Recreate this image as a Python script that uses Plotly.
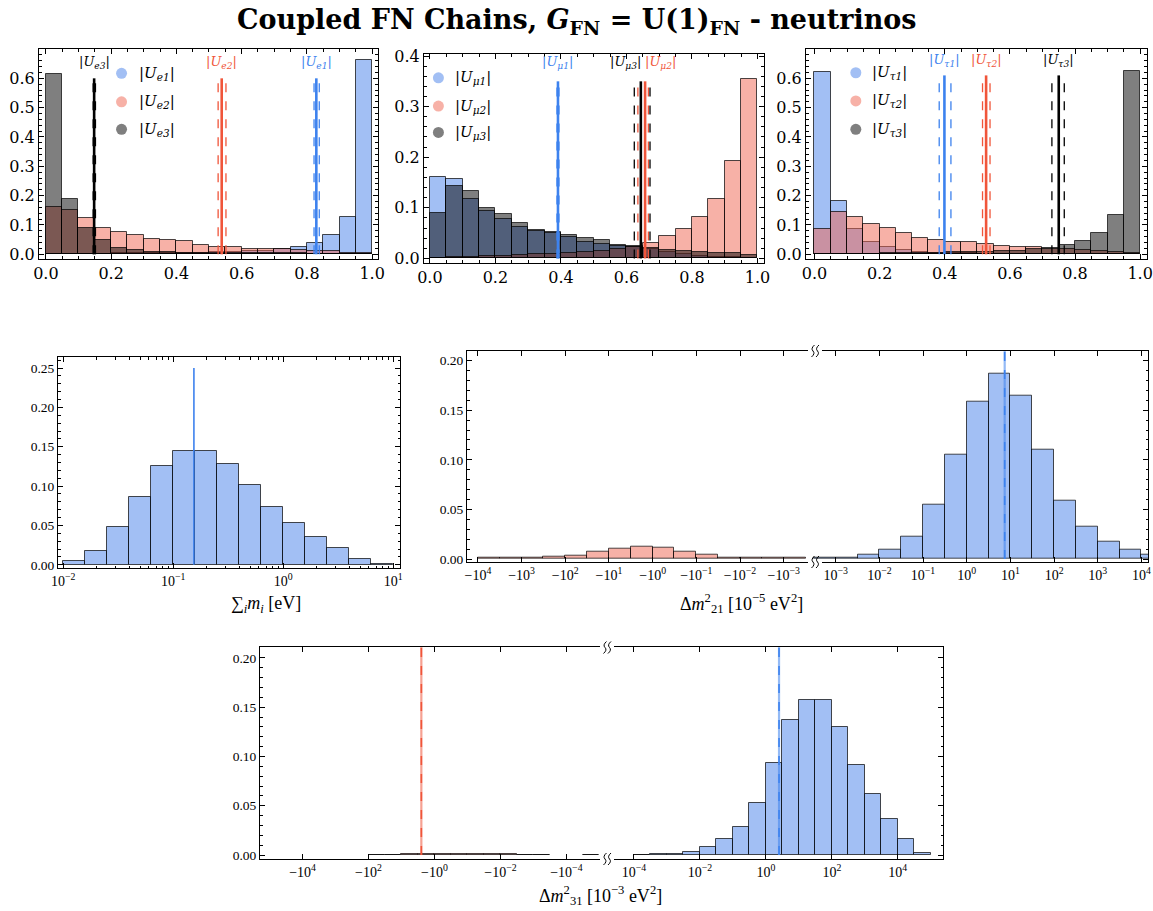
import math
import plotly.graph_objects as go

W, H = 1153, 911

# ---------------- data ----------------
u_edges = [0.00, 0.05, 0.10, 0.15, 0.20, 0.25, 0.30, 0.35, 0.40, 0.45, 0.50,
           0.55, 0.60, 0.65, 0.70, 0.75, 0.80, 0.85, 0.90, 0.95, 1.00]

Ue1 = [0.001, 0.001, 0.002, 0.002, 0.003, 0.003, 0.004, 0.004, 0.005, 0.006,
       0.007, 0.008, 0.010, 0.012, 0.017, 0.024, 0.039, 0.066, 0.127, 0.662]
Ue2 = [0.161, 0.151, 0.124, 0.091, 0.076, 0.065, 0.053, 0.049, 0.044, 0.031,
       0.026, 0.024, 0.017, 0.018, 0.017, 0.015, 0.011, 0.010, 0.006, 0.006]
Ue3 = [0.614, 0.187, 0.089, 0.049, 0.022, 0.013, 0.009, 0.007, 0.006, 0.005,
       0.004, 0.004, 0.003, 0.003, 0.003, 0.003, 0.002, 0.002, 0.002, 0.002]

Umu1 = [0.160, 0.157, 0.118, 0.093, 0.078, 0.063, 0.054, 0.051, 0.042, 0.033,
        0.029, 0.024, 0.022, 0.018, 0.012, 0.008, 0.005, 0.003, 0.002, 0.001]
Umu2 = [0.001, 0.002, 0.003, 0.004, 0.004, 0.007, 0.008, 0.009, 0.011, 0.013,
        0.015, 0.018, 0.022, 0.030, 0.045, 0.059, 0.081, 0.118, 0.193, 0.354]
Umu3 = [0.090, 0.144, 0.133, 0.099, 0.088, 0.070, 0.056, 0.053, 0.047, 0.040,
        0.036, 0.027, 0.024, 0.020, 0.016, 0.015, 0.013, 0.010, 0.010, 0.006]

Utau1 = [0.620, 0.183, 0.086, 0.043, 0.025, 0.015, 0.008, 0.005, 0.004, 0.003,
         0.002, 0.002, 0.001, 0.001, 0.001, 0.001, 0.001, 0.001, 0.001, 0.001]
Utau2 = [0.085, 0.145, 0.126, 0.102, 0.089, 0.072, 0.057, 0.050, 0.043, 0.041,
         0.034, 0.028, 0.026, 0.026, 0.018, 0.017, 0.014, 0.010, 0.007, 0.005]
Utau3 = [0.001, 0.001, 0.002, 0.002, 0.003, 0.004, 0.005, 0.006, 0.007, 0.008,
         0.009, 0.010, 0.012, 0.018, 0.022, 0.033, 0.045, 0.074, 0.135, 0.626]

# best-fit values and 1-sigma bands (|U1|, |U2|, |U3|)
Ue_best = [0.829, 0.539, 0.148]
Ue_lo = [0.822, 0.528, 0.145]
Ue_hi = [0.838, 0.552, 0.152]
Umu_best = [0.391, 0.657, 0.644]
Umu_lo = [0.388, 0.635, 0.624]
Umu_hi = [0.394, 0.667, 0.672]
Utau_best = [0.399, 0.527, 0.750]
Utau_lo = [0.383, 0.516, 0.729]
Utau_hi = [0.419, 0.539, 0.767]

# sum of masses: log10 bin edges and heights
summ_log_edges = [-2.0, -1.8, -1.6, -1.4, -1.2, -1.0, -0.8, -0.6, -0.4, -0.2,
                  0.0, 0.2, 0.4, 0.6, 0.8, 1.0]
summ_vals = [0.005, 0.018, 0.048, 0.086, 0.126, 0.144, 0.144, 0.128, 0.102,
             0.073, 0.053, 0.036, 0.021, 0.008, 0.001]
summ_best = 0.154

# Delta m^2_21 [1e-5 eV^2]; edges are log10|value|
dm21_neg_exp_edges = [4.0, 3.5, 3.0, 2.5, 2.0, 1.5, 1.0, 0.5, 0.0, -0.5, -1.0,
                      -1.5, -2.0, -2.5, -3.0, -3.5]
dm21_neg_vals = [0.001, 0.001, 0.001, 0.002, 0.0037, 0.0077, 0.0108, 0.0124,
                 0.0114, 0.0077, 0.004, 0.0017, 0.0017, 0.0013, 0.001]
dm21_pos_exp_edges = [-3.5, -3.0, -2.5, -2.0, -1.5, -1.0, -0.5, 0.0, 0.5, 1.0,
                      1.5, 2.0, 2.5, 3.0, 3.5, 4.0, 4.5]
dm21_pos_vals = [0.001, 0.0013, 0.004, 0.0097, 0.023, 0.055, 0.105, 0.159,
                 0.187, 0.165, 0.110, 0.059, 0.033, 0.0175, 0.009, 0.0047]
dm21_best = 7.4
dm21_neg_ticks = [4, 3, 2, 1, 0, -1, -2, -3]
dm21_pos_ticks = [-3, -2, -1, 0, 1, 2, 3, 4]

# Delta m^2_31 [1e-3 eV^2]
dm31_neg_exp_edges = [2.0, 1.5, 1.0, 0.5, 0.0, -0.5, -1.0, -1.5, -2.0, -2.5,
                      -3.0, -3.5, -4.0, -4.5, -5.0]
dm31_neg_vals = [0.0003, 0.0005, 0.0008, 0.001, 0.0012, 0.0015, 0.0013, 0.0011,
                 0.0008, 0.0005, 0.0003, None, None, 0.0003]
dm31_pos_exp_edges = [-4.0, -3.5, -3.0, -2.5, -2.0, -1.5, -1.0, -0.5, 0.0, 0.5,
                      1.0, 1.5, 2.0, 2.5, 3.0, 3.5, 4.0, 4.5, 5.0]
dm31_pos_vals = [0.0003, 0.0007, 0.001, 0.003, 0.0078, 0.016, 0.028, 0.053,
                 0.093, 0.137, 0.157, 0.157, 0.130, 0.091, 0.062, 0.037,
                 0.016, 0.002]
dm31_best_no = 2.5
dm31_best_io = -2.5
dm31_neg_ticks = [4, 2, 0, -2, -4]
dm31_pos_ticks = [-4, -2, 0, 2, 4]

# ---------------- style ----------------
BLUE_F = 'rgba(100,149,237,0.6)'
RED_F = 'rgba(240,100,80,0.5)'
GRAY_F = 'rgba(0,0,0,0.5)'
BLUE_L = '#3d82ee'
RED_L = '#f0553a'
EDGE = 'rgba(0,0,0,0.7)'
SERIF = 'DejaVu Serif'
SERIF2 = 'Liberation Serif'

# broken symmetric-log axis mapping (units of decades, break at 0)
C21_NEG, C21_POS = 3.73, 3.46
C31_NEG, C31_POS = 5.25, 4.80


def p_neg(e, c):
    return -(e + c)


def p_pos(e, c):
    return e + c


def p_val(v, cn, cp):
    if v < 0:
        return p_neg(math.log10(-v), cn)
    return p_pos(math.log10(v), cp)


fig = go.Figure()


def dom_x(a, b):
    return [a / W, b / W]


def dom_y(bottom, top):
    return [1 - bottom / H, 1 - top / H]


def add_bars(edges, vals, color, ax):
    xs, ws, ys = [], [], []
    for i, v in enumerate(vals):
        a, b = edges[i], edges[i + 1]
        xs.append((a + b) / 2)
        ws.append(abs(b - a))
        ys.append(v)
    fig.add_trace(go.Bar(x=xs, y=ys, width=ws, marker=dict(color=color, line=dict(color=EDGE, width=1)),
                         xaxis='x' + ax, yaxis='y' + ax, showlegend=False, hoverinfo='skip'))


def vline(x, y0, y1, color, ax, width=2.5, dash='solid', opacity=1.0):
    fig.add_trace(go.Scatter(x=[x, x], y=[y0, y1], mode='lines',
                             line=dict(color=color, width=width, dash=dash), opacity=opacity,
                             xaxis='x' + ax, yaxis='y' + ax, showlegend=False, hoverinfo='skip'))


annotations = []
shapes = []

# ---------------- top row ----------------
top_panels = [
    dict(ax='1', dx=(39, 378), dy=(259, 49), xr=[-0.021, 1.018], yr=[-0.016, 0.70],
         data=[Ue1, Ue2, Ue3], best=Ue_best, lo=Ue_lo, hi=Ue_hi, flav='e', lh=0.60, lt=0.655,
         leg=(0.232, 0.278, [0.617, 0.520, 0.426]), ytv=[0, 0.1, 0.2, 0.3, 0.4, 0.5, 0.6]),
    dict(ax='2', dx=(424, 764), dy=(263, 54), xr=[-0.018, 1.020], yr=[-0.009, 0.404],
         data=[Umu1, Umu2, Umu3], best=Umu_best, lo=Umu_lo, hi=Umu_hi, flav='μ', lh=0.35, lt=0.387,
         leg=(0.026, 0.071, [0.357, 0.301, 0.249]), ytv=[0, 0.1, 0.2, 0.3, 0.4]),
    dict(ax='3', dx=(806, 1147), dy=(259, 49), xr=[-0.026, 1.021], yr=[-0.016, 0.70],
         data=[Utau1, Utau2, Utau3], best=Utau_best, lo=Utau_lo, hi=Utau_hi, flav='τ', lh=0.61, lt=0.662,
         leg=(0.127, 0.171, [0.619, 0.523, 0.426]), ytv=[0, 0.1, 0.2, 0.3, 0.4, 0.5, 0.6]),
]

fills = [BLUE_F, RED_F, GRAY_F]
lcols = [BLUE_L, RED_L, 'black']
axis_common = dict(showgrid=False, zeroline=False, showline=True, linecolor='black', linewidth=1,
                   mirror='ticks', ticks='inside', tickcolor='black', automargin=False)

layout = {}
for P in top_panels:
    ax = P['ax']
    for k in range(3):
        add_bars(u_edges, P['data'][k], fills[k], ax)
    # best-fit lines
    for k in range(3):
        vline(P['lo'][k], 0, P['lh'], lcols[k], ax, width=1.3, dash='dash')
        vline(P['hi'][k], 0, P['lh'], lcols[k], ax, width=1.3, dash='dash')
        vline(P['best'][k], 0, P['lh'], lcols[k], ax, width=2.6)
    # labels above lines
    for k in range(3):
        txt = '|<i>U</i><sub><i>%s%d</i></sub>|' % (P['flav'], k + 1)
        xa = 'center'
        xpos = P['best'][k]
        if P['flav'] == 'μ' and k == 2:
            xa, xpos = 'right', 0.652
        if P['flav'] == 'μ' and k == 1:
            xa, xpos = 'left', 0.652
        annotations.append(dict(x=xpos, y=P['lt'], xref='x' + ax, yref='y' + ax, text=txt,
                                showarrow=False, xanchor=xa, yanchor='middle',
                                font=dict(family=SERIF, size=13, color=lcols[k])))
    # legend
    mx, tx, ys = P['leg']
    fig.add_trace(go.Scatter(x=[mx] * 3, y=ys, mode='markers',
                             marker=dict(size=11, color=fills, line=dict(width=0)),
                             xaxis='x' + ax, yaxis='y' + ax, showlegend=False, hoverinfo='skip'))
    for k in range(3):
        annotations.append(dict(x=tx, y=ys[k], xref='x' + ax, yref='y' + ax,
                                text='|<i>U</i><sub><i>%s%d</i></sub>|' % (P['flav'], k + 1),
                                showarrow=False, xanchor='left', yanchor='middle',
                                font=dict(family=SERIF, size=15, color='black')))
    xk = 'xaxis' if ax == '1' else 'xaxis' + ax
    yk = 'yaxis' if ax == '1' else 'yaxis' + ax
    layout[xk] = dict(axis_common, domain=dom_x(*P['dx']), range=P['xr'], anchor='y' + ax,
                      tickvals=[0, 0.2, 0.4, 0.6, 0.8, 1.0],
                      ticktext=['0.0', '0.2', '0.4', '0.6', '0.8', '1.0'], ticklen=5,
                      tickfont=dict(family=SERIF, size=16, color='black'),
                      minor=dict(ticks='inside', ticklen=3, dtick=0.05, tick0=0, tickcolor='black'))
    layout[yk] = dict(axis_common, domain=dom_y(*P['dy']), range=P['yr'], anchor='x' + ax,
                      tickvals=P['ytv'], ticktext=['%.1f' % v for v in P['ytv']], ticklen=5,
                      tickfont=dict(family=SERIF, size=16, color='black'),
                      minor=dict(ticks='inside', ticklen=3, dtick=0.02, tick0=0, tickcolor='black'))

# ---------------- middle left: sum of masses ----------------
add_bars(summ_log_edges, summ_vals, BLUE_F, '4')
vline(math.log10(summ_best), 0, 0.25, BLUE_L, '4', width=1.6)
minor_log = []
for n in [-3, -2, -1, 0, 1]:
    for m in range(2, 10):
        v = math.log10(m * 10 ** n)
        if -2.05 < v < 1.06:
            minor_log.append(v)
layout['xaxis4'] = dict(axis_common, domain=dom_x(58, 400), range=[-2.048, 1.061], anchor='y4',
                        tickvals=[-2, -1, 0, 1],
                        ticktext=['10<sup>−2</sup>', '10<sup>−1</sup>', '10<sup>0</sup>', '10<sup>1</sup>'],
                        ticklen=5, tickfont=dict(family=SERIF2, size=14, color='black'),
                        minor=dict(ticks='inside', ticklen=2.5, tickvals=minor_log, tickcolor='black'))
layout['yaxis4'] = dict(axis_common, domain=dom_y(568, 357), range=[-0.004, 0.264], anchor='x4',
                        tickvals=[0, 0.05, 0.10, 0.15, 0.20, 0.25],
                        ticktext=['0.00', '0.05', '0.10', '0.15', '0.20', '0.25'],
                        ticklen=5, tickfont=dict(family=SERIF2, size=13.5, color='black'),
                        minor=dict(ticks='inside', ticklen=2.5, dtick=0.01, tick0=0, tickcolor='black'))
annotations.append(dict(x=229 / W, y=1 - 604 / H, xref='paper', yref='paper', yanchor='middle',
                        text='∑<sub><i>i</i></sub><i>m<sub>i</sub></i> [eV]', showarrow=False,
                        font=dict(family=SERIF2, size=18, color='black')))

# ---------------- middle right: Delta m^2_21 ----------------
add_bars([p_neg(e, C21_NEG) for e in dm21_neg_exp_edges], dm21_neg_vals, RED_F, '5')
add_bars([p_pos(e, C21_POS) for e in dm21_pos_exp_edges], dm21_pos_vals, BLUE_F, '5')
pb = p_val(dm21_best, C21_NEG, C21_POS)
vline(pb, 0, 0.21, BLUE_L, '5', width=2.2, opacity=0.55)
vline(pb, 0, 0.21, BLUE_L, '5', width=1.6, dash='dash')


def logtick(e, neg):
    s = '%d' % e
    s = s.replace('-', '−')
    return ('−' if neg else '') + '10<sup>' + s + '</sup>'


tv21 = [p_neg(e, C21_NEG) for e in dm21_neg_ticks] + [p_pos(e, C21_POS) for e in dm21_pos_ticks]
tt21 = [logtick(e, True) for e in dm21_neg_ticks] + [logtick(e, False) for e in dm21_pos_ticks]
layout['xaxis5'] = dict(axis_common, domain=dom_x(467, 1148), range=[-7.98, 7.61], anchor='y5',
                        tickvals=tv21, ticktext=tt21, ticklen=5,
                        tickfont=dict(family=SERIF2, size=14, color='black'))
layout['yaxis5'] = dict(axis_common, domain=dom_y(561.7, 350.7), range=[-0.0027, 0.21], anchor='x5',
                        tickvals=[0, 0.05, 0.10, 0.15, 0.20],
                        ticktext=['0.00', '0.05', '0.10', '0.15', '0.20'],
                        ticklen=5, tickfont=dict(family=SERIF2, size=13.5, color='black'),
                        minor=dict(ticks='inside', ticklen=2.5, dtick=0.01, tick0=0, tickcolor='black'))
annotations.append(dict(x=805 / W, y=1 - 603 / H, xref='paper', yref='paper', yanchor='middle',
                        text='Δ<i>m</i><sup>2</sup><sub>21</sub> [10<sup>−5</sup> eV<sup>2</sup>]',
                        showarrow=False, font=dict(family=SERIF2, size=18, color='black')))

# ---------------- bottom: Delta m^2_31 ----------------
add_bars([p_neg(e, C31_NEG) for e in dm31_neg_exp_edges], dm31_neg_vals, RED_F, '6')
add_bars([p_pos(e, C31_POS) for e in dm31_pos_exp_edges], dm31_pos_vals, BLUE_F, '6')
pr = p_val(dm31_best_io, C31_NEG, C31_POS)
pbb = p_val(dm31_best_no, C31_NEG, C31_POS)
vline(pr, 0, 0.211, RED_L, '6', width=2.2, opacity=0.55)
vline(pr, 0, 0.211, RED_L, '6', width=1.6, dash='dash')
vline(pbb, 0, 0.211, BLUE_L, '6', width=2.2, opacity=0.55)
vline(pbb, 0, 0.211, BLUE_L, '6', width=1.6, dash='dash')
tv31 = [p_neg(e, C31_NEG) for e in dm31_neg_ticks] + [p_pos(e, C31_POS) for e in dm31_pos_ticks]
tt31 = [logtick(e, True) for e in dm31_neg_ticks] + [logtick(e, False) for e in dm31_pos_ticks]
layout['xaxis6'] = dict(axis_common, domain=dom_x(260, 943), range=[-10.54, 10.17], anchor='y6',
                        tickvals=tv31, ticktext=tt31, ticklen=5,
                        tickfont=dict(family=SERIF2, size=14, color='black'))
layout['yaxis6'] = dict(axis_common, domain=dom_y(859, 647), range=[-0.004, 0.211], anchor='x6',
                        tickvals=[0, 0.05, 0.10, 0.15, 0.20],
                        ticktext=['0.00', '0.05', '0.10', '0.15', '0.20'],
                        ticklen=5, tickfont=dict(family=SERIF2, size=13.5, color='black'),
                        minor=dict(ticks='inside', ticklen=2.5, dtick=0.01, tick0=0, tickcolor='black'))
annotations.append(dict(x=600 / W, y=1 - 895 / H, xref='paper', yref='paper', yanchor='middle',
                        text='Δ<i>m</i><sup>2</sup><sub>31</sub> [10<sup>−3</sup> eV<sup>2</sup>]',
                        showarrow=False, font=dict(family=SERIF2, size=18, color='black')))


# ---------------- axis break marks ----------------
def break_mark(xpx, ypx):
    shapes.append(dict(type='rect', xref='paper', yref='paper',
                       x0=(xpx - 5) / W, x1=(xpx + 9) / W, y0=1 - (ypx + 2.5) / H, y1=1 - (ypx - 2.5) / H,
                       fillcolor='white', line=dict(width=0), layer='above'))
    for dx in (0, 4.5):
        x = xpx + dx
        pts = [(x - 1.5, ypx + 6), (x + 2.5, ypx + 2.5), (x, ypx), (x - 2.5, ypx - 2.5), (x + 1.5, ypx - 6)]
        P = [(a / W, 1 - b / H) for a, b in pts]
        path = 'M %f,%f Q %f,%f %f,%f Q %f,%f %f,%f' % (P[0] + P[1] + P[2] + P[3] + P[4])
        shapes.append(dict(type='path', xref='paper', yref='paper', path=path,
                           line=dict(color='black', width=1), layer='above'))


break_mark(813, 351)
break_mark(813, 562)
break_mark(605, 647.5)
break_mark(605, 859)

# ---------------- title ----------------
annotations.append(dict(x=0.5, y=1 - 21 / H, xref='paper', yref='paper', yanchor='middle',
                        text='<b>Coupled FN Chains, <i>G</i><sub>FN</sub> = U(1)<sub>FN</sub> - neutrinos</b>',
                        showarrow=False, font=dict(family=SERIF, size=27, color='black')))

fig.update_layout(width=W, height=H, margin=dict(l=0, r=0, t=0, b=0, pad=0),
                  paper_bgcolor='white', plot_bgcolor='white', barmode='overlay',
                  bargap=0, annotations=annotations, shapes=shapes, **layout)

fig.write_html('out.html', config={'displayModeBar': False},
               post_script="document.body.style.margin='0';document.body.style.overflow='hidden';")
